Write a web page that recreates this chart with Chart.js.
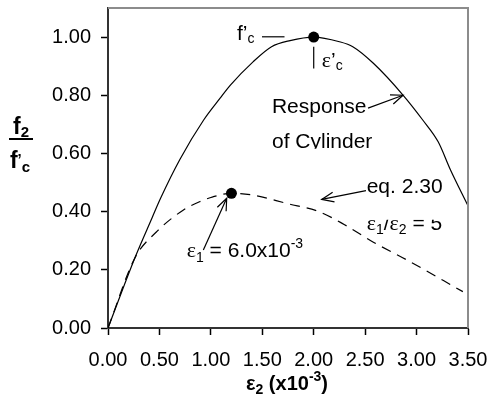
<!DOCTYPE html>
<html><head><meta charset="utf-8">
<script src="https://cdn.jsdelivr.net/npm/chart.js@4/dist/chart.umd.min.js"></script>
<style>html,body{margin:0;padding:0;background:#fff}</style>
</head><body>
<canvas id="c" width="491" height="400"></canvas>
<script>
// ---- data ----
const cylinderStrain = [0, 0.26, 0.43, 0.51, 0.70, 0.93, 1.09, 1.19, 1.41, 1.59, 1.77, 2.0, 2.25, 2.38, 2.58, 2.87, 3.06, 3.21, 3.33, 3.5];
const cylinderStress = [0, 0.24, 0.38, 0.445, 0.58, 0.715, 0.79, 0.835, 0.915, 0.967, 0.988, 1.0, 0.984, 0.967, 0.91, 0.80, 0.715, 0.64, 0.543, 0.42];
const eqStrain = [0, 0.26, 0.47, 0.73, 0.89, 1.02, 1.2, 1.41, 1.74, 2.05, 2.3, 2.58, 2.9, 3.45];
const eqStress = [0, 0.24, 0.33, 0.405, 0.434, 0.451, 0.463, 0.457, 0.428, 0.40, 0.355, 0.295, 0.235, 0.125];
const peakStrain = [2.0, 1.2];
const peakStress = [1.0, 0.463];
const xTickValues = [0, 0.5, 1.0, 1.5, 2.0, 2.5, 3.0, 3.5];
const yTickValues = [0, 0.2, 0.4, 0.6, 0.8, 1.0];

const toXY = (xs, ys) => xs.map((x, i) => ({x: x, y: ys[i]}));

const SANS = '"Liberation Sans", Arial, sans-serif';
const SERIF = '"Liberation Serif", "Times New Roman", serif';
const F = (size, fam, bold) => (bold ? 'bold ' : '') + size + 'px ' + fam;

function drawRich(ctx, parts, x, y, align) {
  let w = 0;
  parts.forEach(p => { ctx.font = p.font; w += ctx.measureText(p.t).width; });
  if (align === 'center') x -= w / 2;
  ctx.textAlign = 'left';
  ctx.textBaseline = 'alphabetic';
  parts.forEach(p => {
    ctx.font = p.font;
    ctx.fillText(p.t, x, y + (p.dy || 0));
    x += ctx.measureText(p.t).width;
  });
}
function arrowLine(ctx, x1, y1, x2, y2) {
  ctx.beginPath(); ctx.moveTo(x1, y1); ctx.lineTo(x2, y2); ctx.stroke();
  const a = Math.atan2(y2 - y1, x2 - x1), L = 13, s = 0.38;
  ctx.beginPath();
  ctx.moveTo(x2 - L * Math.cos(a - s), y2 - L * Math.sin(a - s));
  ctx.lineTo(x2, y2);
  ctx.lineTo(x2 - L * Math.cos(a + s), y2 - L * Math.sin(a + s));
  ctx.stroke();
}

const reg = F(21, SANS), sub = F(14, SANS), sup = F(14, SANS), eps = F(22, SERIF);
const annotations = {
  texts: [
    {x: 1.254, y: 0.99, parts: [{t: 'f', font: reg}, {t: '\u2019', font: reg}, {t: 'c', font: sub, dy: 3}]},
    {x: 2.078, y: 0.898, parts: [{t: '\u03b5', font: eps}, {t: '\u2019', font: reg}, {t: 'c', font: sub, dy: 3}]},
    {x: 1.594, y: 0.738, parts: [{t: 'Response', font: reg}]},
    {x: 1.594, y: 0.619, parts: [{t: 'of Cylinder', font: reg}], clipBottom: 0.616},
    {x: 2.515, y: 0.463, parts: [{t: 'eq. 2.30', font: reg}]},
    {x: 2.515, y: 0.338, parts: [{t: '\u03b5', font: eps}, {t: '1', font: sub, dy: 4}, {t: '/', font: reg}, {t: '\u03b5', font: eps}, {t: '2', font: sub, dy: 4}, {t: ' = 5', font: reg}], clipTop: 0.372},
    {x: 0.765, y: 0.243, parts: [{t: '\u03b5', font: eps}, {t: '1', font: sub, dy: 5}, {t: ' = 6.0x10', font: reg}, {t: '-3', font: sup, dy: -9}]}
  ],
  lines: [
    {x1: 1.497, y1: 1.001, x2: 1.716, y2: 1.001},
    {x1: 2.0, y1: 0.967, x2: 2.0, y2: 0.892}
  ],
  arrows: [
    {x1: 2.528, y1: 0.756, x2: 2.868, y2: 0.80},
    {x1: 2.508, y1: 0.472, x2: 2.078, y2: 0.442},
    {x1: 0.927, y1: 0.268, x2: 1.154, y2: 0.446}
  ]
};

const annotPlugin = {
  id: 'annot',
  afterDatasetsDraw(chart) {
    const {ctx, chartArea: ca, scales: {x, y}} = chart;
    ctx.save();
    // top & right frame
    ctx.strokeStyle = '#8c8c8c'; ctx.lineWidth = 2;
    ctx.beginPath(); ctx.moveTo(ca.left, ca.top); ctx.lineTo(ca.right, ca.top); ctx.lineTo(ca.right, ca.bottom); ctx.stroke();
    ctx.fillStyle = '#000'; ctx.strokeStyle = '#000'; ctx.lineWidth = 1.2;
    annotations.lines.forEach(l => {
      ctx.beginPath(); ctx.moveTo(x.getPixelForValue(l.x1), y.getPixelForValue(l.y1));
      ctx.lineTo(x.getPixelForValue(l.x2), y.getPixelForValue(l.y2)); ctx.stroke();
    });
    annotations.arrows.forEach(a => arrowLine(ctx, x.getPixelForValue(a.x1), y.getPixelForValue(a.y1), x.getPixelForValue(a.x2), y.getPixelForValue(a.y2)));
    annotations.texts.forEach(t => {
      ctx.save();
      const px = x.getPixelForValue(t.x), py = y.getPixelForValue(t.y);
      if (t.clipBottom !== undefined || t.clipTop !== undefined) {
        const top = t.clipTop !== undefined ? y.getPixelForValue(t.clipTop) : py - 40;
        const bot = t.clipBottom !== undefined ? y.getPixelForValue(t.clipBottom) : py + 20;
        ctx.beginPath(); ctx.rect(px - 5, top, 200, bot - top); ctx.clip();
      }
      drawRich(ctx, t.parts, px, py, 'left');
      ctx.restore();
    });
    // y axis title (fraction)
    const bf = F(23, SANS, true), bs = F(15, SANS, true);
    drawRich(ctx, [{t: 'f', font: bf}, {t: '2', font: bs, dy: 3}], 21, 134, 'center');
    ctx.fillRect(9, 138, 24, 2);
    drawRich(ctx, [{t: 'f', font: bf}, {t: '\u2019', font: bs, dy: -4}, {t: 'c', font: bs, dy: 4}], 20, 168, 'center');
    // x axis title
    const xf = F(20, SANS, true), xs = F(14, SANS, true);
    drawRich(ctx, [{t: '\u03b5', font: xf}, {t: '2', font: xs, dy: 4}, {t: ' (x10', font: xf}, {t: '-3', font: xs, dy: -9}, {t: ')', font: xf}], (ca.left + ca.right) / 2 - 1, 390, 'center');
    ctx.restore();
  }
};

new Chart(document.getElementById('c'), {
  type: 'scatter',
  data: {
    datasets: [
      {label: 'Response of Cylinder', data: toXY(cylinderStrain, cylinderStress), showLine: true, borderColor: '#000', borderWidth: 1.2, pointRadius: 0, cubicInterpolationMode: 'monotone', fill: false},
      {label: 'eq. 2.30', data: toXY(eqStrain, eqStress), showLine: true, borderColor: '#000', borderWidth: 1.2, borderDash: [10, 7], pointRadius: 0, cubicInterpolationMode: 'monotone', fill: false},
      {label: 'peaks', data: toXY(peakStrain, peakStress), showLine: false, pointRadius: 5.5, pointBackgroundColor: '#000', pointBorderColor: '#000', pointBorderWidth: 0}
    ]
  },
  options: {
    responsive: false, animation: false,
    layout: {padding: {left: 0, top: 8, right: 23, bottom: 0}},
    plugins: {legend: {display: false}, tooltip: {enabled: false}},
    scales: {
      x: {
        type: 'linear', min: 0, max: 3.5,
        afterFit: s => { s.height = 72; s.paddingLeft = 0; s.paddingRight = 0; },
        afterBuildTicks: s => { s.ticks = xTickValues.map(v => ({value: v})); },
        ticks: {color: '#000', font: {family: SANS, size: 20}, padding: 13, maxRotation: 0, callback: v => Number(v).toFixed(2)},
        grid: {drawOnChartArea: false, color: '#000', tickLength: 7, tickWidth: 1.5},
        border: {color: '#333', width: 2}
      },
      y: {
        type: 'linear', min: 0, max: 1.1,
        afterFit: s => { s.width = 108; s.paddingTop = 0; s.paddingBottom = 0; },
        afterBuildTicks: s => { s.ticks = yTickValues.map(v => ({value: v})); },
        ticks: {color: '#000', font: {family: SANS, size: 20}, padding: 10, callback: v => Number(v).toFixed(2)},
        grid: {drawOnChartArea: false, color: '#000', tickLength: 7, tickWidth: 1.5},
        border: {color: '#333', width: 2}
      }
    }
  },
  plugins: [annotPlugin]
});
</script>
</body></html>
